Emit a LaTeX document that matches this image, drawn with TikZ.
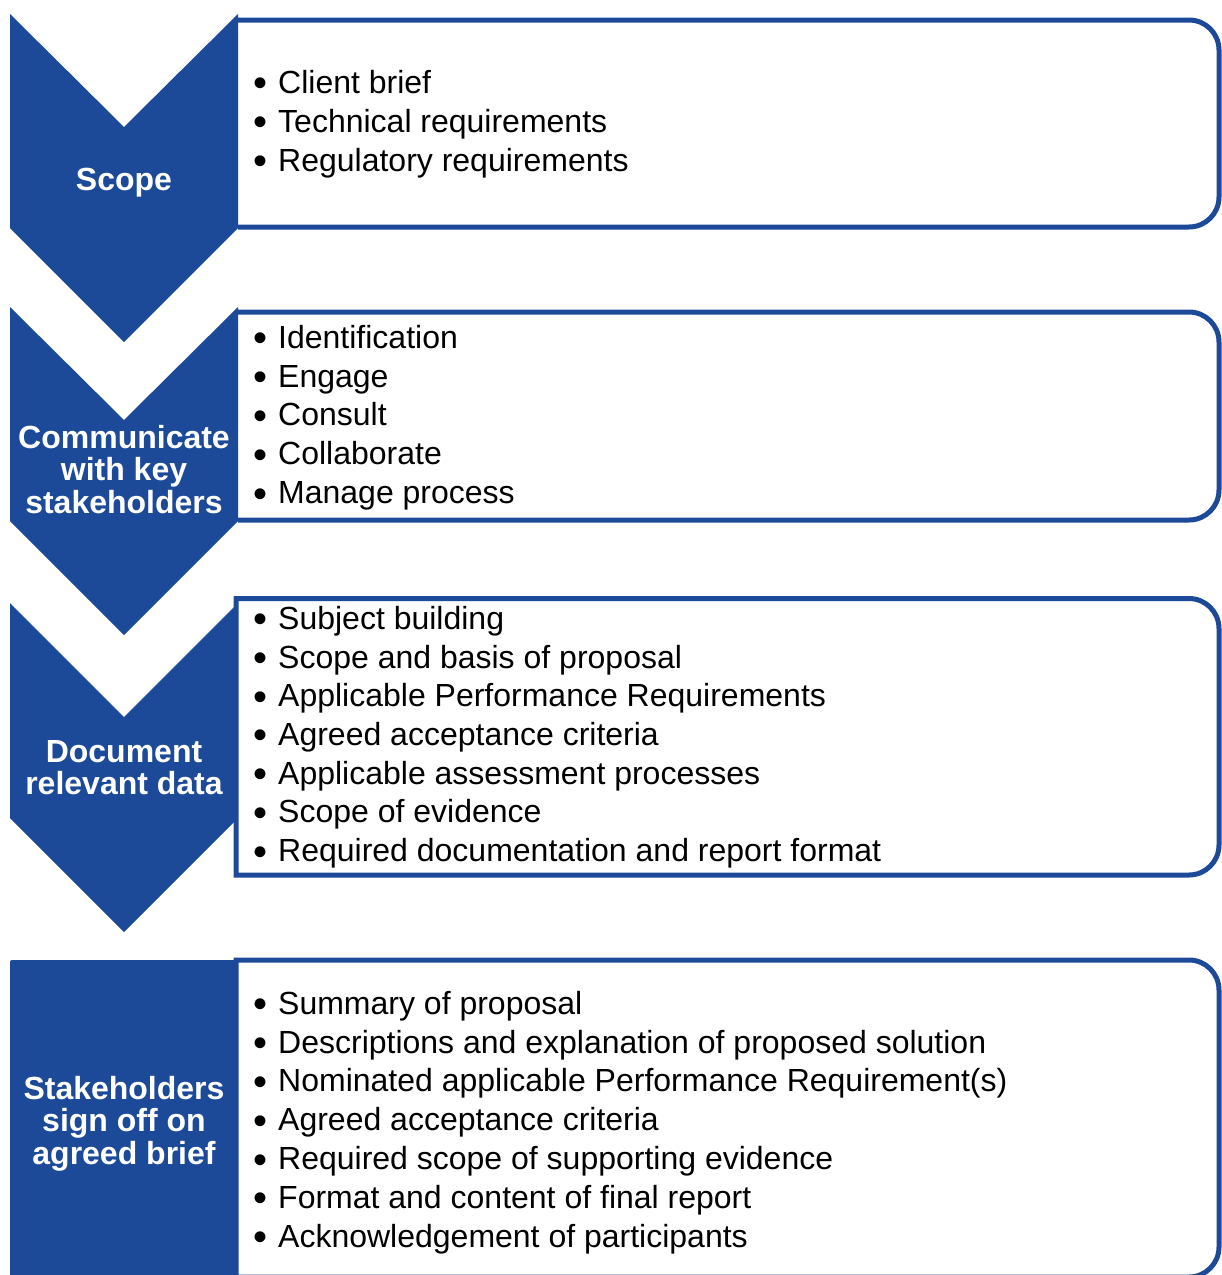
\documentclass[tikz,border=0pt]{standalone}
\usepackage{fontspec}
\setmainfont{Liberation Sans}
\definecolor{myblue}{RGB}{28,74,153}
\newcommand\mybul{\makebox[25pt][l]{\raisebox{-3.5pt}{\scalebox{1.25}{•}}}}
\tikzset{
  chev/.style={fill=myblue, draw=none},
  box/.style={draw=myblue, line width=5pt, fill=white, line join=miter},
  item/.style={anchor=base west, inner sep=0pt, text=black, font=\fontsize{32}{39}\selectfont},
  lbl/.style={anchor=base, inner sep=0pt, text=white, font=\bfseries\fontsize{32}{33}\selectfont},
}
\begin{document}
\begin{tikzpicture}[x=1pt,y=-1pt]
\useasboundingbox (0,0) rectangle (1222,1275);
\begin{scope}
\clip (0,0) rectangle (1222,1275);
% ---------- box 1 (open left) ----------
\draw[box, fill=none] (238,20) -- (1189,20) arc[start angle=-90,end angle=0,radius=30]
   -- (1219,197) arc[start angle=0,end angle=90,radius=30] -- (238,227);
% ---------- box 2 (open left) ----------
\draw[box, fill=none] (238,312) -- (1189,312) arc[start angle=-90,end angle=0,radius=30]
   -- (1219,490) arc[start angle=0,end angle=90,radius=30] -- (238,520);
% ---------- chevrons 1 and 2 ----------
\path[chev] (10,14) -- (124,127) -- (238,14) -- (238,228) -- (124,342) -- (10,228) -- cycle;
\path[chev] (10,307) -- (124,420) -- (238,307) -- (238,521) -- (124,635) -- (10,521) -- cycle;
% ---------- chevron 3 and box 3 ----------
\path[chev] (10,603) -- (124,717) -- (238,603) -- (238,818) -- (124,932) -- (10,818) -- cycle;
\draw[box] (236,598.5) -- (1189,598.5) arc[start angle=-90,end angle=0,radius=30]
   -- (1219,845) arc[start angle=0,end angle=90,radius=30] -- (236,875) -- cycle;
% ---------- block 4 and box 4 ----------
\fill[myblue, rounded corners=2pt] (10,1290) -- (10,960) -- (238,960) -- (238,1290) -- cycle;
\draw[box] (236,960) -- (1189,960) arc[start angle=-90,end angle=0,radius=30]
   -- (1219,1247) arc[start angle=0,end angle=90,radius=30] -- (236,1277) -- cycle;
\end{scope}
% ---------- labels ----------
\node[lbl] (l1) at (124,190.5) {Scope};
\foreach \t [count=\i] in {Communicate, with key, stakeholders}
  \node[lbl] (l2-\i) at (124,{448.3+32.6*(\i-1)}) {\t};
\foreach \t [count=\i] in {Document, relevant data}
  \node[lbl] (l3-\i) at (124,{762.5+32.4*(\i-1)}) {\t};
\foreach \t [count=\i] in {Stakeholders, sign off on, agreed brief}
  \node[lbl] (l4-\i) at (124,{1099+32.8*(\i-1)}) {\t};
% ---------- items ----------
\foreach \t [count=\i] in {Client brief, Technical requirements, Regulatory requirements}
  \node[item] (a\i) at (253,{93.3+39*(\i-1)}) {\mybul\t};
\foreach \t [count=\i] in {Identification, Engage, Consult, Collaborate, Manage process}
  \node[item] (b\i) at (253,{348.3+38.8*(\i-1)}) {\mybul\t};
\foreach \t [count=\i] in {Subject building, Scope and basis of proposal, Applicable Performance Requirements, Agreed acceptance criteria, Applicable assessment processes, Scope of evidence, Required documentation and report format}
  \node[item] (c\i) at (253,{629.3+38.7*(\i-1)}) {\mybul\t};
\foreach \t [count=\i] in {Summary of proposal, Descriptions and explanation of proposed solution, Nominated applicable Performance Requirement(s), Agreed acceptance criteria, Required scope of supporting evidence, Format and content of final report, Acknowledgement of participants}
  \node[item] (d\i) at (253,{1014.3+38.8*(\i-1)}) {\mybul\t};
\end{tikzpicture}
\end{document}
